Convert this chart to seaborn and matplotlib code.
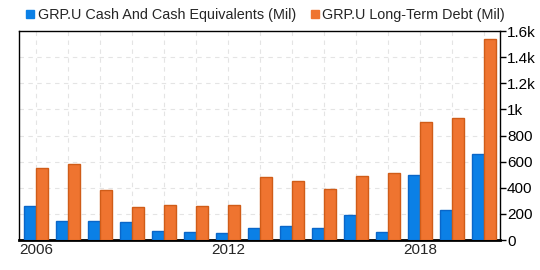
import pandas as pd
import seaborn as sns
import matplotlib.pyplot as plt
from matplotlib.lines import Line2D

years = list(range(2006, 2021))
cash = [260, 145, 145, 138, 69, 61, 54, 92, 107, 92, 191, 61, 497, 230, 658]
debt = [551, 582, 383, 253, 268, 260, 268, 482, 452, 390, 490, 513, 903, 934, 1538]
series = ['GRP.U Cash And Cash Equivalents (Mil)', 'GRP.U Long-Term Debt (Mil)']
colors = ['#0b80e6', '#ef7430']
edges = ['#0a66c8', '#d05c18']
yticks = [0, 200, 400, 600, 800, 1000, 1200, 1400, 1600]
ytick_labels = ['0', '200', '400', '600', '800', '1k', '1.2k', '1.4k', '1.6k']
xlabel_years = [2006, 2012, 2018]

df = pd.DataFrame({
    'year': [str(y) for y in years] * 2,
    'value': cash + debt,
    'series': [series[0]] * len(years) + [series[1]] * len(years),
})

sns.set_style('white')
plt.rcParams['font.family'] = ['Liberation Sans', 'DejaVu Sans']

fig = plt.figure(figsize=(5.4, 2.7), dpi=100)
ax = fig.add_axes([0.035, 0.111, 0.891, 0.774])

sns.barplot(data=df, x='year', y='value', hue='series', palette=dict(zip(series, colors)),
            saturation=1, width=0.76, gap=0.06, legend=False, ax=ax, zorder=3)

# edge colours per series
n = len(years)
for i, p in enumerate(ax.patches):
    p.set_edgecolor(edges[0] if i < n else edges[1])
    p.set_linewidth(1.0)

ax.set_xlim(-0.53, 14.5)
ax.set_ylim(0, 1600)
ax.set_xlabel('')
ax.set_ylabel('')

# grid
for i in range(n):
    ax.axvline(i, color='#e4e4e4', linestyle=(0, (4, 4)), linewidth=0.8, zorder=0)
for t in yticks[1:-1]:
    ax.axhline(t, color='#e4e4e4', linestyle=(0, (4, 4)), linewidth=0.8, zorder=0)

ax.set_xticks([years.index(y) for y in xlabel_years])
ax.set_xticklabels([str(y) for y in xlabel_years], fontsize=11)
ax.yaxis.tick_right()
ax.set_yticks(yticks)
ax.set_yticklabels(ytick_labels, fontsize=11)
ax.tick_params(axis='y', direction='out', length=4, width=1, pad=1, colors='black')
ax.tick_params(axis='x', length=0, pad=2)

for s in ['top', 'left', 'right']:
    ax.spines[s].set_color('black')
    ax.spines[s].set_linewidth(1.0)
ax.spines['bottom'].set_color('black')
ax.spines['bottom'].set_linewidth(2.0)

handles = [Line2D([], [], marker='s', linestyle='', markersize=5.5, color=c) for c in colors]
fig.legend(handles, series, loc='upper center', bbox_to_anchor=(0.49, 1.02), ncol=2,
           frameon=False, fontsize=10.4, handletextpad=0.1, columnspacing=0.9, handlelength=0.8)

plt.savefig('out.png', dpi=100)
